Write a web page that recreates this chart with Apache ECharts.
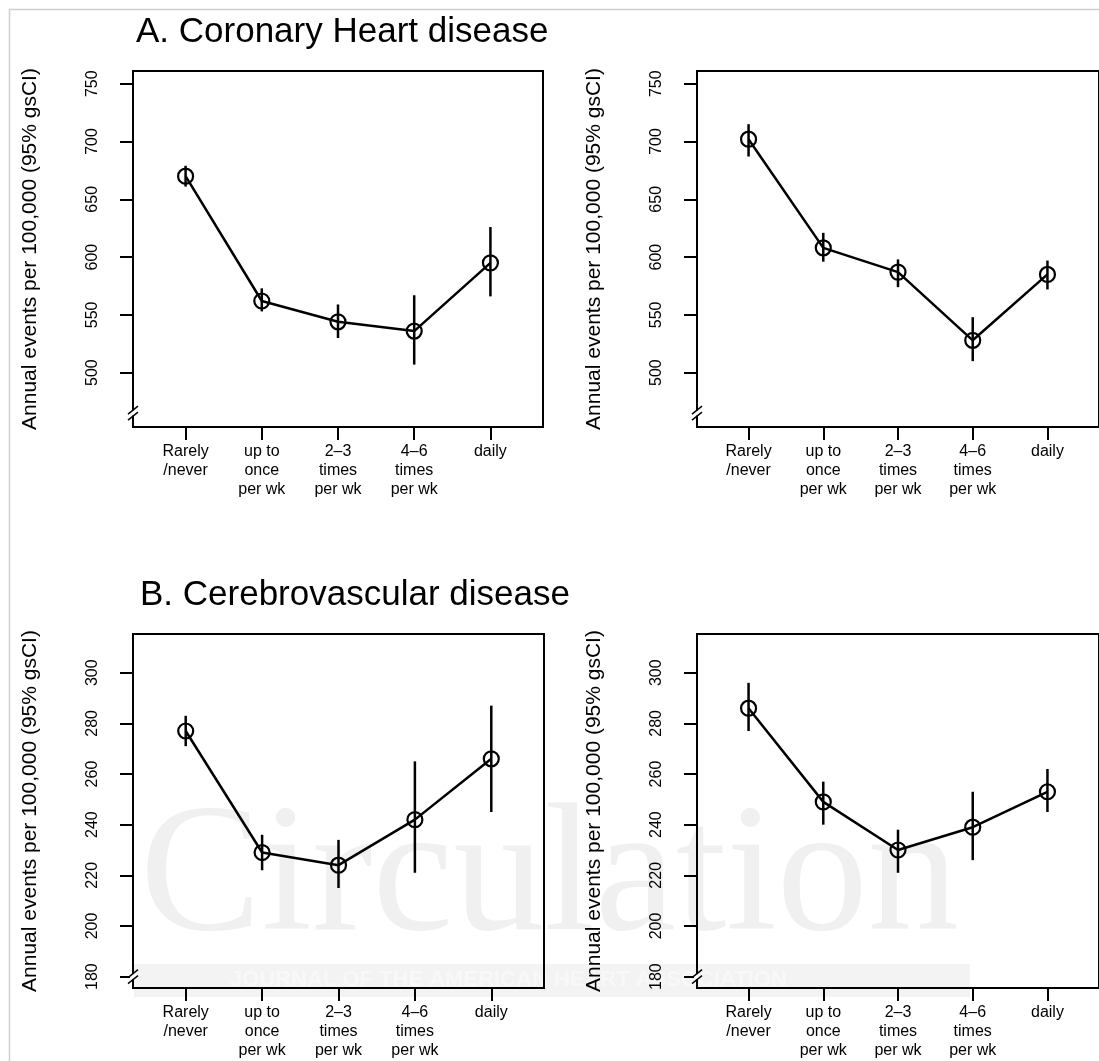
<!DOCTYPE html>
<html>
<head>
<meta charset="utf-8">
<style>html,body{margin:0;padding:0;background:#fff}#c{width:1099px;height:1061px}</style>
<script src="https://cdn.jsdelivr.net/npm/echarts@6/dist/echarts.min.js"></script>
</head>
<body>
<div id="c"></div>
<script>
// ---- data ----
const categories = ['Rarely\n/never', 'up to\nonce\nper wk', '2\u20133\ntimes\nper wk', '4\u20136\ntimes\nper wk', 'daily'];
const xTicks = [0, 1, 2, 3, 4];

const chdLeftMean = [670, 562, 544, 536, 595];
const chdLeftLow  = [661, 553, 530, 507, 566];
const chdLeftHigh = [679, 573, 559, 567, 626];

const chdRightMean = [702, 608, 587, 528, 585];
const chdRightLow  = [687, 596, 574, 510, 572];
const chdRightHigh = [715, 621, 598, 548, 597];

const cvdLeftMean = [277, 229, 224, 242, 266];
const cvdLeftLow  = [271, 222, 215, 221, 245];
const cvdLeftHigh = [283, 236, 234, 265, 287];

const cvdRightMean = [286, 249, 230, 239, 253];
const cvdRightLow  = [277, 240, 221, 226, 245];
const cvdRightHigh = [296, 257, 238, 253, 262];

const chdTicks = [500, 550, 600, 650, 700, 750];
const cvdTicks = [180, 200, 220, 240, 260, 280, 300];

const yName = 'Annual events per 100,000 (95% gsCI)';
const titleA = 'A. Coronary Heart disease';
const titleB = 'B. Cerebrovascular disease';

// ---- layout ----
const FONT = '"Liberation Sans", Arial, Helvetica, sans-serif';
const X_MIN = -0.69, X_MAX = 4.69;
const panels = [
  {grid: {left: 133, top: 71, width: 410, height: 356}, mean: chdLeftMean, low: chdLeftLow, high: chdLeftHigh, yMin: 453, yMax: 761, ticks: chdTicks, brk: 465},
  {grid: {left: 697, top: 71, width: 410, height: 356}, mean: chdRightMean, low: chdRightLow, high: chdRightHigh, yMin: 453, yMax: 761, ticks: chdTicks, brk: 465},
  {grid: {left: 133, top: 634, width: 411, height: 354}, mean: cvdLeftMean, low: cvdLeftLow, high: cvdLeftHigh, yMin: 175.5, yMax: 315.3, ticks: cvdTicks, brk: 180},
  {grid: {left: 697, top: 634, width: 410, height: 354}, mean: cvdRightMean, low: cvdRightLow, high: cvdRightHigh, yMin: 175.5, yMax: 315.3, ticks: cvdTicks, brk: 180}
];

const grids = [], xAxes = [], yAxes = [], series = [];
panels.forEach((p, i) => {
  grids.push(Object.assign({show: true, borderColor: '#000', borderWidth: 2, backgroundColor: 'transparent', containLabel: false}, p.grid));
  xAxes.push({
    type: 'value', gridIndex: i, min: X_MIN, max: X_MAX, position: 'bottom',
    axisLine: {show: false, onZero: false},
    splitLine: {show: false},
    axisTick: {show: true, customValues: xTicks, length: 13, lineStyle: {color: '#000', width: 2}},
    axisLabel: {show: true, customValues: xTicks, margin: 15, color: '#000', fontFamily: FONT, fontSize: 16, lineHeight: 19,
      formatter: v => categories[Math.round(v)]}
  });
  yAxes.push({
    type: 'value', gridIndex: i, min: p.yMin, max: p.yMax, position: 'left',
    name: yName, nameLocation: 'middle', nameRotate: 90, nameGap: 92,
    nameTextStyle: {color: '#000', fontFamily: FONT, fontSize: 21},
    axisLine: {show: false, onZero: false},
    splitLine: {show: false},
    axisTick: {show: true, customValues: p.ticks, length: 13, lineStyle: {color: '#000', width: 2}},
    axisLabel: {show: true, customValues: p.ticks, rotate: 90, margin: 32, color: '#000', fontFamily: FONT, fontSize: 16}
  });
  // error bars
  series.push({
    type: 'custom', xAxisIndex: i, yAxisIndex: i, clip: false, z: 3,
    data: p.mean.map((m, k) => [k, p.low[k], p.high[k]]),
    encode: {x: 0, y: [1, 2]},
    renderItem: (params, api) => {
      const a = api.coord([api.value(0), api.value(1)]);
      const b = api.coord([api.value(0), api.value(2)]);
      return {type: 'line', shape: {x1: a[0], y1: a[1], x2: b[0], y2: b[1]}, style: {stroke: '#000', lineWidth: 2.5}};
    }
  });
  // means
  series.push({
    type: 'line', xAxisIndex: i, yAxisIndex: i, z: 4,
    data: p.mean.map((m, k) => [k, m]),
    lineStyle: {color: '#000', width: 2.5},
    symbol: 'circle', symbolSize: 15, showSymbol: true,
    itemStyle: {color: 'rgba(0,0,0,0)', borderColor: '#000', borderWidth: 2.2},
    emphasis: {disabled: true}, animation: false
  });
  // axis break mark
  series.push({
    type: 'custom', xAxisIndex: i, yAxisIndex: i, clip: false, z: 5,
    data: [[X_MIN, p.brk]],
    encode: {x: 0, y: 1},
    renderItem: (params, api) => {
      const c = api.coord([api.value(0), api.value(1)]);
      return {type: 'group', children: [
        {type: 'rect', shape: {x: c[0] - 3, y: c[1] - 2.5, width: 6, height: 5}, style: {fill: '#fff'}},
        {type: 'line', shape: {x1: c[0] - 5, y1: c[1] + 1, x2: c[0] + 5, y2: c[1] - 7}, style: {stroke: '#000', lineWidth: 1.5}},
        {type: 'line', shape: {x1: c[0] - 5, y1: c[1] + 7, x2: c[0] + 5, y2: c[1] - 1}, style: {stroke: '#000', lineWidth: 1.5}}
      ]};
    }
  });
});

const chart = echarts.init(document.getElementById('c'), null, {renderer: 'canvas'});
chart.setOption({
  backgroundColor: '#fff',
  animation: false,
  title: [
    {text: titleA, left: 131, top: 10, textStyle: {color: '#000', fontFamily: FONT, fontSize: 35, fontWeight: 'normal'}},
    {text: titleB, left: 135, top: 573, textStyle: {color: '#000', fontFamily: FONT, fontSize: 35, fontWeight: 'normal'}}
  ],
  graphic: {elements: [
    {type: 'rect', left: 7, top: 7, z: -2, shape: {width: 1200, height: 1200}, style: {fill: 'none', stroke: '#cfcfcf', lineWidth: 1.5}},
    {type: 'text', left: 140, top: 790, z: -1, style: {text: 'Circulation', fill: '#f0f0f0', font: '182px "Liberation Serif", "Times New Roman", serif'}},
    {type: 'rect', left: 134, top: 964, z: -1, shape: {width: 836, height: 33}, style: {fill: '#f3f3f3'}},
    {type: 'text', left: 230, top: 969, z: -1, style: {text: 'JOURNAL OF THE AMERICAN HEART ASSOCIATION', fill: '#f8f8f8', font: 'bold 22px ' + FONT}}
  ]},
  grid: grids,
  xAxis: xAxes,
  yAxis: yAxes,
  series: series
});
</script>
</body>
</html>
